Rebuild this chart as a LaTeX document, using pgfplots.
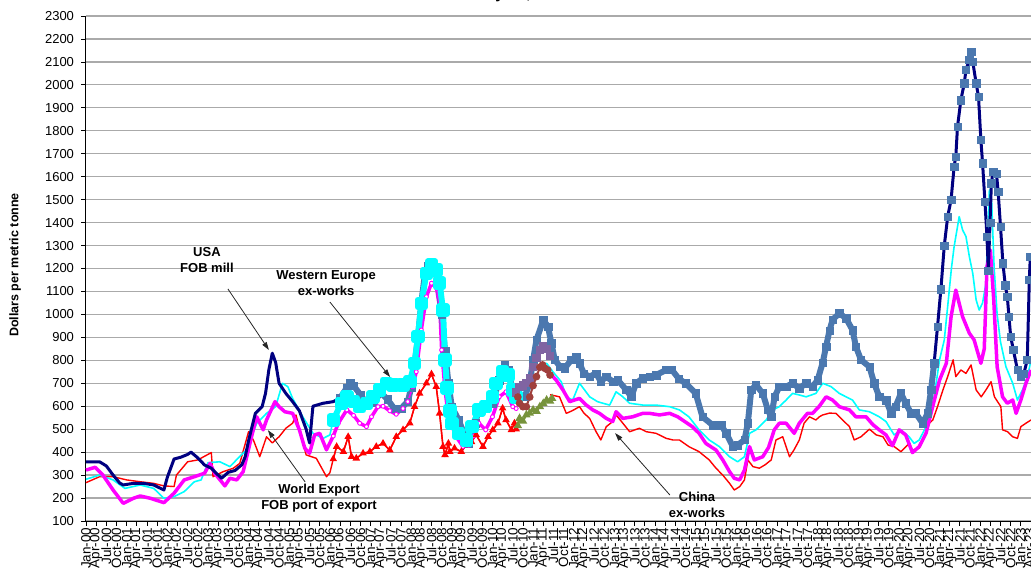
\documentclass[border=0pt]{standalone}
\usepackage{pgfplots}
\pgfplotsset{compat=1.18}
\usepackage{pgfplotstable}
\usepackage{fontspec}
\setmainfont{Liberation Sans}
\usetikzlibrary{arrows.meta}

\definecolor{usanavy}{RGB}{0,0,128}
\definecolor{usasteel}{RGB}{75,120,175}
\definecolor{weurcyan}{RGB}{0,255,255}
\definecolor{wexmag}{RGB}{255,0,255}
\definecolor{chred}{RGB}{255,0,0}
\definecolor{olivegr}{RGB}{119,147,60}
\definecolor{brownr}{RGB}{160,64,60}
\definecolor{purpl}{RGB}{128,100,162}
\definecolor{gridgray}{RGB}{170,170,170}

\pgfplotstableread{
m v
0 358
4 358
6 340
8 300
10 265
11 257
14 264
17 264
20 257
23 235
24 290
25 330
26 370
28 378
30 390
31 400
33 375
35 344
37 330
38 315
40 286
42 312
44 320
46 345
47 380
48 450
49 510
50 569
52 598
53 656
54 760
55 831
56 790
57 700
59 656
61 620
63 580
65 500
66 440
67 600
70 613
73 620
75 635
77 680
78 700
79 690
81 650
83 610
85 615
87 660
89 630
91 590
93 590
95 620
96 680
97 780
98 900
99 1050
100 1170
101 1210
102 1210
103 1190
104 1136
105 1000
106 840
107 700
108 598
110 540
112 467
113 438
115 526
116 598
118 591
120 613
122 714
123.6 780
124.6 758
126 671
127 656
128 641
129.5 641
131 700
132 802
133 889
135 976
136.4 947
137.4 874
138.4 802
140 772
141.3 765
143.3 802
144.7 816
145.7 787
147 743
148.7 729
150.6 743
152 707
153.6 729
155.6 707
157 714
159.5 671
161 641
162.4 700
164.4 722
166.4 729
168.3 736
171.3 758
173 758
175 720
177 700
180 656
182 554
185 518
187.5 518
189 482
191 424
192.4 431
194.4 453
195.4 526
196.4 671
197.8 693
199.8 656
201.3 584
202.3 554
203.3 641
204.7 685
206.7 685
208.6 700
210.6 678
212.6 700
214.5 685
216 714
217.5 790
218.5 860
219.5 930
220.4 976
222.4 1005
224.4 983
226.3 932
227.3 860
228.8 802
231.3 772
232.7 700
234.2 641
236.2 627
237.7 569
239 598
240.6 656
242 613
243.6 569
245 569
247 526
248.5 569
249.5 671
250.4 787
251.4 947
252.4 1110
253.4 1300
254.4 1426
255.4 1499
256.3 1644
256.8 1688
257.3 1818
258.3 1934
259.3 2007
259.8 2065
260.8 2109
261.3 2145
261.8 2101
262.8 2007
263.5 1949
264.2 1760
264.7 1659
265.4 1491
266 1339
266.4 1190
266.9 1400
267.3 1571
267.8 1622
268.8 1614
269.3 1534
270 1382
270.7 1223
271.4 1128
272 1077
272.5 990
273 903
273.8 845
275 758
275.9 729
276.9 743
277.9 802
278.5 1150
278.8 1252
}\usa

\pgfplotstableread{
m v
0 282
4 300
8 279
11.5 242
16 257
20 242
23 199
26 206
29 228
32 271
34 279
36 354
39.5 358
42.5 337
44.4 366
47.4 410
50.4 526
53.3 569
56 598
58 700
59.6 685
61 634
64 554
67 482
70 460
72 475
73 540
75.4 613
77 640
79 620
80.8 598
82.8 613
84.7 641
86.7 671
88.7 700
90.6 693
93.6 693
95.6 707
97 787
98 903
99 1048
100.5 1179
102 1215
103.5 1194
104.4 1136
105.4 1019
106 802
106.6 680
107.5 580
108 526
110 482
112.3 453
114 511
116 584
118 600
120 640
121 700
123 751
124.6 736
126 671
127 641
130 nan
135 780
136 787
137.8 751
140.3 707
141.8 641
143.7 627
145.7 700
147.2 671
148.7 641
151 620
152.6 613
154.6 605
156.5 663
158.5 641
160.5 613
164.4 605
168.3 605
172.3 598
175.2 584
178 554
181 497
184 453
187 424
190 380
192.4 358
194.4 380
195.9 482
197.8 497
200.8 540
202.7 584
204.7 598
206.7 627
208.6 656
210.6 649
212.6 641
215.5 656
217.5 700
220 685
222.4 656
224.4 641
226.3 627
228.3 584
231.3 576
234.2 554
236.2 533
238.6 475
240.6 497
243 467
244.5 438
246 453
248 511
250 600
252 802
253.4 889
254.5 1050
255.5 1200
256.3 1295
257.8 1426
258.8 1368
259.8 1339
260.8 1252
261.8 1179
262.8 1063
263.7 1019
264.7 1050
265.7 1136
266.7 1542
267.4 1484
268.1 1208
269 1000
270 880
271.6 772
273.6 700
275 627
276.5 671
278 729
279 802
}\weur

\pgfplotstableread{
m v
0 322
2.7 334
5 300
8 235
11 177
14 199
16 209
19 199
23 180
26 221
29 279
32 293
35 308
36.6 351
38 308
41 253
42.5 286
44.5 279
46.4 315
49 475
50.4 554
52.3 497
53.3 540
55.8 620
57 598
58.7 576
61 569
63 497
64.6 417
66 395
67.5 475
69 482
71 410
73 470
74.5 526
77 584
79 560
80.8 526
82.8 511
84.3 554
86.2 598
87.7 600
89.7 580
91.6 565
93.6 590
95 620
96.5 685
97.5 750
99 932
100.5 1077
102 1136
103.5 1114
104.5 1019
105 845
106 671
107 554
109.3 467
111.3 424
113 430
114.5 470
116 526
118 497
120 554
122 641
124 663
126 598
127 590
130 nan
134 772
137 743
138.8 714
140.8 671
142.8 620
145.7 634
147.7 605
149.6 584
151.6 569
153.6 547
155.5 533
156.5 576
158.5 547
161.4 554
164.4 569
166.4 569
169.3 562
172.3 569
174.7 554
179 511
181 482
183 438
186 409
188 366
190 315
191.4 286
193 279
194.4 322
195.9 424
197.3 366
199.8 380
201.5 420
203.2 497
204.7 526
206.7 526
209.1 482
210.6 526
213 569
214.5 569
216.5 600
218.5 641
220.4 627
222.4 598
225.4 584
227.3 554
230.3 554
232.3 520
234.2 497
236.2 475
238.1 428
240.1 497
242 475
244 398
246 424
248 482
250 600
252 714
254 787
255.4 990
256.8 1106
258.8 990
260.8 918
262.2 889
264.2 787
265.2 850
266 1208
267 1280
268 1063
269 772
270.6 641
272 613
273.6 627
274.6 569
276 627
277.5 700
279 758
}\wexp

\pgfplotstableread{
m v
0 267
4 293
8 293
12 279
16 271
20 264
23 253
26 250
26.7 300
30 358
33 366
37 398
37.5 293
40.5 315
43.5 330
45.4 351
48 489
49.5 450
51.3 380
53.3 467
55 440
57 467
59 504
61 526
62 562
63.5 470
65 388
68 373
71 293
72 310
73 370
74 424
76 402
77.4 467
78.4 380
79.8 373
81.8 395
83.8 402
85.7 424
87.7 438
89.7 409
91.6 467
93.6 497
95.6 526
97 598
98.5 656
100.5 700
102 740
103.4 685
104.4 569
105.4 424
106 388
107 438
107.4 402
108.8 417
110.8 402
112.3 431
113.8 445
115.2 475
117.2 424
118.7 467
120.1 497
121.6 526
123 591
124 540
125.6 497
126.5 526
127 500
130 nan
137 650
139.8 641
141.8 569
143.5 580
145.7 598
147 570
148.7 547
150.6 489
152 453
153.6 511
155.5 533
156.5 562
158.5 526
160.5 489
163.4 504
165.4 489
168.3 482
171.3 460
173.3 453
175.2 453
178 424
181 402
184 366
186 330
188 300
190 264
191.4 235
193 250
194.4 279
195.4 366
196.9 337
198.8 330
200.5 345
202.3 366
203.7 453
205.7 467
207.7 380
209 409
210.6 453
212 526
213.6 554
215.5 540
216.5 554
217.5 562
219.5 570
221.4 569
223.4 540
225.4 511
226.8 453
228.8 467
231.3 500
233.3 475
235.3 467
236.8 431
238.6 424
240.6 402
243 438
244 409
246 417
248 482
249 526
250 540
251.4 598
253 671
254.4 729
256 802
256.8 729
258.3 758
259.8 743
261.3 780
262.8 671
264.3 641
265.7 671
267.2 707
268.2 641
270.1 598
270.6 497
272.1 489
273.6 467
275 460
276 511
277.5 526
279 540
}\china

\pgfplotstableread{
m v
127.5 515
128 547
129 535
130 562
131 570
132 584
133 578
134 598
135 612
136 627
137 622
137.6 634
}\olive

\pgfplotstableread{
m v
127.5 640
128 613
129 598
130 598
131 640
132 690
133 729
134 770
134.8 780
135.5 765
136.3 758
137 736
}\brownser

\pgfplotstableread{
m v
127 660
128 685
129 690
130 700
131 720
132 770
133 810
134 845
135 860
136 850
137 820
}\purpser

\begin{document}
\begin{tikzpicture}
\begin{axis}[
  scale only axis, width=945pt, height=505pt,
  xmin=0, xmax=279, ymin=100, ymax=2300,
  clip=false,
  axis x line=bottom, axis y line=left,
  axis line style={black, line width=1pt, -},
  xtick={0,3,...,279},
  ytick={100,200,...,2300},
  tick align=outside,
  major tick length=4.5pt,
  tick style={black, line width=0.8pt},
  ymajorgrids,
  grid style={gridgray, line width=1.2pt},
  /pgf/number format/assume math mode=true,
  /pgf/number format/1000 sep={},
  yticklabel style={font=\fontsize{13}{13}\selectfont, xshift=-4pt},
  xticklabel style={font=\fontsize{13.5}{13.5}\selectfont, rotate=90, anchor=east, inner sep=2pt},
  xticklabel={\pgfmathtruncatemacro\tm{round(\tick)}\pgfmathtruncatemacro\yr{floor((\tm+0.5)/12)}\pgfmathtruncatemacro\mo{\tm-12*\yr}\ifcase\mo Jan\or\or\or Apr\or\or\or Jul\or\or\or Oct\else\fi-\ifnum\yr<10 0\fi\yr},
  every axis y label/.style={at={(axis description cs:-0.0751,0.507)}, rotate=90, anchor=center, font=\bfseries\fontsize{12.5}{12.5}\selectfont},
  ylabel={Dollars per metric tonne},
  unbounded coords=jump,
]
% base lines
\addplot[chred, line width=1.4pt, line join=round] table[x=m,y=v]{\china};
\addplot[weurcyan, line width=1.6pt, line join=round] table[x=m,y=v]{\weur};
\addplot[wexmag, line width=3.5pt, line join=round] table[x=m,y=v]{\wexp};
\addplot[usanavy, line width=3pt, line join=round] table[x=m,y=v]{\usa};
% marker overlays
\addplot[usasteel, line width=6pt, line join=round, restrict x to domain=75:251] table[x=m,y=v]{\usa};
\addplot[only marks, mark=square*, mark size=3.7pt, mark options={fill=usasteel, draw=usasteel}, restrict x to domain=75:279] table[x=m,y=v]{\usa};
\addplot[wexmag, line width=1.5pt, mark=*, mark size=2pt, mark options={fill=white, draw=wexmag, line width=0.9pt}, restrict x to domain=73:127] table[x=m,y=v]{\wexp};
\addplot[chred, line width=1.4pt, mark=triangle*, mark size=3pt, mark options={fill=chred, draw=chred}, restrict x to domain=73:127] table[x=m,y=v]{\china};
\addplot[weurcyan, line width=6pt, line join=round, mark=square*, mark size=3.7pt, mark options={fill=weurcyan, draw=weurcyan}, restrict x to domain=73:127] table[x=m,y=v]{\weur};
% transition series 2010-2011
\addplot[purpl, line width=2pt, mark=square*, mark size=3.2pt, mark options={fill=purpl, draw=purpl}] table[x=m,y=v]{\purpser};
\addplot[brownr, line width=2pt, mark=*, mark size=2.8pt, mark options={fill=brownr, draw=brownr}] table[x=m,y=v]{\brownser};
\addplot[olivegr, line width=2pt, mark=triangle*, mark size=3pt, mark options={fill=olivegr, draw=olivegr}] table[x=m,y=v]{\olive};

% title (mostly cropped)
\node[anchor=base, font=\bfseries\fontsize{16}{16}\selectfont] at (axis description cs:0.4614,1.0347) {May 22, 2023};

% annotations
\node[font=\bfseries\fontsize{13}{16}\selectfont, align=center] at (axis cs:35.7,1237) {USA\\FOB mill};
\draw[-{Triangle[length=8pt,width=5pt]}, line width=0.8pt, black!85] (axis cs:41.9,1111) -- (axis cs:54.0,845);

\node[font=\bfseries\fontsize{13}{16}\selectfont, align=center] at (axis cs:70.9,1137) {Western Europe\\ex-works};
\draw[-{Triangle[length=8pt,width=5pt]}, line width=0.8pt, black!85] (axis cs:72.0,1054) -- (axis cs:89.8,727);

\node[font=\bfseries\fontsize{13}{16}\selectfont, align=center] at (axis cs:68.8,200) {World Export\\FOB port of export};
\draw[-{Triangle[length=8pt,width=5pt]}, line width=0.8pt, black!85] (axis cs:64.7,270) -- (axis cs:53.7,496);

\node[font=\bfseries\fontsize{13}{16}\selectfont, align=center] at (axis cs:180.4,170) {China\\ex-works};
\draw[-{Triangle[length=8pt,width=5pt]}, line width=0.8pt, black!85] (axis cs:172.4,213) -- (axis cs:156.2,483);
\end{axis}
\pgfresetboundingbox
\useasboundingbox (-86pt,-47pt) rectangle (945pt,521pt);
\end{tikzpicture}
\end{document}
